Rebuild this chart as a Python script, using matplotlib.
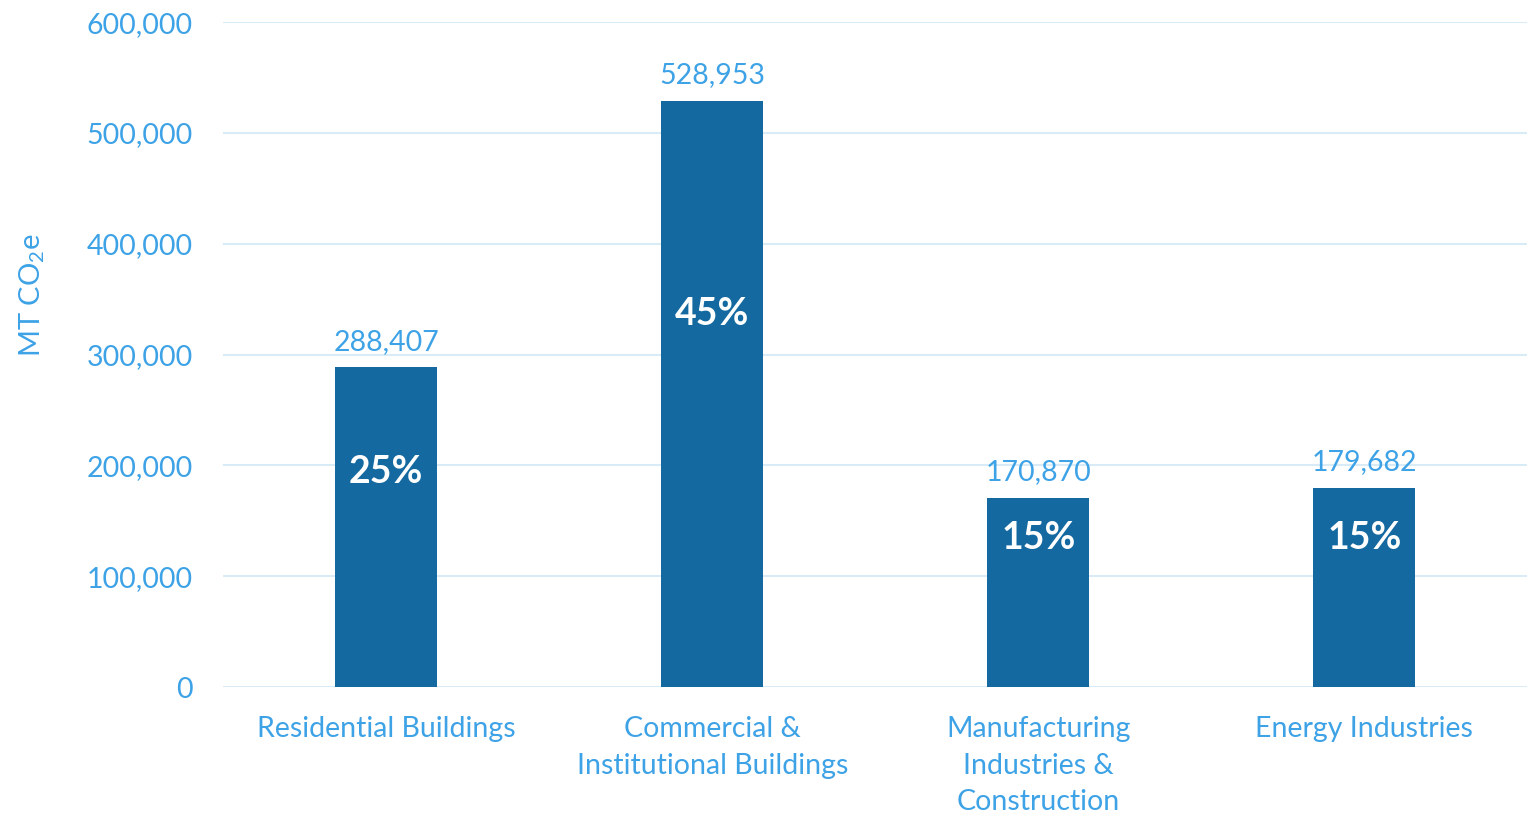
import matplotlib
matplotlib.use("Agg")
import matplotlib.pyplot as plt
from matplotlib.ticker import FuncFormatter

# data
categories = ["Residential Buildings", "Commercial &\nInstitutional Buildings",
              "Manufacturing\nIndustries &\nConstruction", "Energy Industries"]
emissions = [288407, 528953, 170870, 179682]
shares = ["25%", "45%", "15%", "15%"]
share_label_y = [194000, 337000, 134500, 134500]  # where the % labels sit

bar_color = "#1369A0"
text_color = "#3DA2E6"
grid_color = "#D9EBF7"

plt.rcParams["font.family"] = ["Lato", "DejaVu Sans"]
plt.rcParams["mathtext.fontset"] = "custom"
plt.rcParams["mathtext.rm"] = "Lato"

fig = plt.figure(figsize=(15.32, 8.17), dpi=100)
ax = fig.add_axes([0.1456, 0.159, 0.8514, 0.814])

x = list(range(len(categories)))
bars = ax.bar(x, emissions, width=0.313, color=bar_color, zorder=3)

ax.set_ylim(0, 600000)
ax.set_xlim(-0.5, 3.5)
ax.set_yticks(range(0, 600001, 100000))
ax.yaxis.set_major_formatter(FuncFormatter(lambda v, p: f"{int(v):,}"))
ax.grid(axis="y", color=grid_color, linewidth=1.5, zorder=0)
ax.tick_params(axis="y", length=0, pad=22, labelsize=20.5, labelcolor=text_color)
ax.tick_params(axis="x", length=0, pad=21, labelsize=20.5, labelcolor=text_color)
ax.set_xticks(x)
ax.set_xticklabels(categories, linespacing=1.5, va="top")
for s in ax.spines.values():
    s.set_visible(False)

ax.set_ylabel("MT CO$_2$e", fontsize=21, color=text_color)
ax.yaxis.set_label_coords(-0.135, 0.59)

# value labels on top of bars
for xi, v in zip(x, emissions):
    ax.annotate(f"{v:,}", (xi, v), xytext=(0, 9), textcoords="offset points",
                ha="center", va="bottom", fontsize=20.5, color=text_color)

# share labels inside bars
for xi, s, yy in zip(x, shares, share_label_y):
    ax.text(xi, yy, s, ha="center", va="center", fontsize=27,
            fontweight="bold", color="white", zorder=4)

fig.savefig("out.png", dpi=100)
